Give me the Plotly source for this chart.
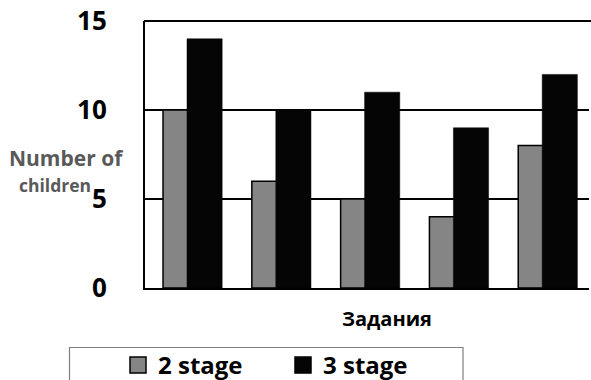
import plotly.graph_objects as go

# Tasks (category axis) and number of children per stage
tasks = ["1", "2", "3", "4", "5"]
stage2 = [10, 6, 5, 4, 8]
stage3 = [14, 10, 11, 9, 12]
y_ticks = [0, 5, 10, 15]

series_names = ["2 stage", "3 stage"]
GRAY = "#858585"
BLACK = "#050505"
FONT = "Open Sans"

W, H = 591, 380
ML, MR, MT, MB = 145, 2, 21, 92
PW = W - ML - MR
PH = H - MT - MB


def px_x(px):
    return (px - ML) / PW


def px_y(py):
    return (H - MB - py) / PH


fig = go.Figure()

# 2 stage bars sit behind the 3 stage bars in each cluster
fig.add_trace(go.Bar(
    x=tasks, y=stage2, name=series_names[0], showlegend=False,
    offset=-0.297, width=0.30,
    marker=dict(color=GRAY, line=dict(color="#000000", width=1.5)),
))
fig.add_trace(go.Bar(
    x=tasks, y=stage3, name=series_names[1], showlegend=False,
    offset=-0.027, width=0.396,
    marker=dict(color=BLACK, line=dict(color="#000000", width=0.5)),
))

# legend entries with larger square swatches
for name, col in zip(series_names, [GRAY, BLACK]):
    fig.add_trace(go.Scatter(
        x=[None], y=[None], mode="markers", name=name,
        marker=dict(symbol="square", size=16, color=col,
                    line=dict(color="#000000", width=1.5)),
    ))

fig.update_layout(
    width=W, height=H,
    margin=dict(l=ML, r=MR, t=MT, b=MB, autoexpand=False),
    paper_bgcolor="white", plot_bgcolor="white",
    barmode="overlay",
    showlegend=True,
    legend=dict(
        orientation="h", xref="paper", yref="paper",
        x=px_x(118), y=px_y(343), xanchor="left", yanchor="top",
        font=dict(family=FONT, size=24, color="#000000", weight="bold"),
        entrywidth=120, entrywidthmode="pixels",
        bgcolor="rgba(0,0,0,0)", borderwidth=0,
    ),
    xaxis=dict(
        type="category", range=[-0.5, 4.5],
        showticklabels=False, ticks="", showgrid=False,
        showline=True, linecolor="#000000", linewidth=2,
        zeroline=False, fixedrange=True,
    ),
    yaxis=dict(
        range=[0, 15], tickvals=y_ticks,
        showgrid=True, gridcolor="#000000", gridwidth=2,
        showline=True, linecolor="#000000", linewidth=2,
        zeroline=False, ticks="", ticklabelstandoff=31,
        tickfont=dict(family=FONT, size=26, color="#000000", weight="bold"),
        fixedrange=True,
    ),
    shapes=[
        # back edge of the chart at the top of the value range
        dict(type="line", xref="paper", yref="paper",
             x0=px_x(144), x1=px_x(W), y0=1, y1=1,
             line=dict(color="#000000", width=2)),
        # legend frame
        dict(type="rect", xref="paper", yref="paper",
             x0=px_x(69.5), x1=px_x(463), y0=px_y(347.5), y1=px_y(400),
             line=dict(color="#7f7f7f", width=1.2), fillcolor="rgba(0,0,0,0)",
             layer="below"),
    ],
    annotations=[
        dict(text="Number of", xref="paper", yref="paper",
             x=px_x(66.5), y=px_y(158), xanchor="center", yanchor="middle",
             showarrow=False,
             font=dict(family=FONT, size=21, color="#595959", weight="bold")),
        dict(text="children", xref="paper", yref="paper",
             x=px_x(55), y=px_y(185), xanchor="center", yanchor="middle",
             showarrow=False,
             font=dict(family=FONT, size=17.5, color="#595959", weight="bold")),
        dict(text="Задания", xref="paper", yref="paper",
             x=px_x(387), y=px_y(318), xanchor="center", yanchor="middle",
             showarrow=False,
             font=dict(family=FONT, size=20, color="#000000", weight="bold")),
    ],
)

fig.write_html("out.html")
